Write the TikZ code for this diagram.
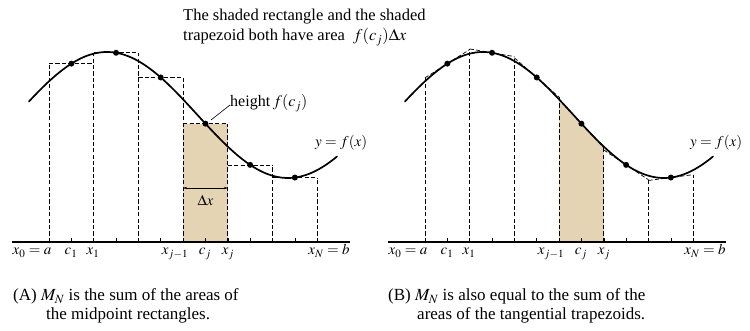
\documentclass[tikz,border=0pt]{standalone}
\usepackage{mathptmx}
\usepackage{fontspec}
\setmainfont{Liberation Serif}
\usetikzlibrary{arrows.meta}
\definecolor{tan}{HTML}{E4D4B4}
\tikzset{
  curve/.style={line width=1.7pt, line cap=round},
  dsh/.style={line width=0.7pt, dash pattern=on 4.2pt off 2.2pt},
  axisline/.style={line width=1.1pt},
  tick/.style={line width=0.6pt},
  dotmark/.style={circle, fill=black, inner sep=0pt, minimum size=6pt},
  lbl/.style={inner sep=0pt, anchor=base, font=\fontsize{15}{17}\selectfont},
  mlbl/.style={inner sep=0pt, anchor=base west, font=\fontsize{15}{17}\selectfont},
  txt/.style={inner sep=0pt, anchor=base west, font=\fontsize{17}{19}\selectfont},
  toptxt/.style={txt, font=\fontsize{16.5}{18}\selectfont, text height=11pt, text depth=2.5pt},
  declare function={fc(\x)=216+63*cos(0.994475*(\x-107));
                    fd(\x)=-1.09349*sin(0.994475*(\x-107));}
}
\begin{document}
\begin{tikzpicture}[x=1pt,y=1pt]
\useasboundingbox (0,0) rectangle (750,331);
\def\xz{49}\def\dx{44.7}
% ===================== Panel A =====================
\begin{scope}
% shaded rectangle
\pgfmathsetmacro{\ca}{\xz+3.5*\dx}
\pgfmathsetmacro{\ha}{fc(\ca)}
\fill[tan] ({\xz+3*\dx},89) rectangle ({\xz+4*\dx},\ha);
% rectangles (tops)
\foreach \j in {1,...,6}{
  \pgfmathsetmacro{\c}{\xz+(\j-0.5)*\dx}
  \pgfmathsetmacro{\h}{fc(\c)}
  \draw[dsh] ({\xz+(\j-1)*\dx},\h) -- ({\xz+\j*\dx},\h);
}
% verticals
\foreach \j in {0,...,6}{
  \pgfmathsetmacro{\xx}{\xz+\j*\dx}
  \pgfmathsetmacro{\hl}{\j>0 ? fc(\xz+(\j-0.5)*\dx) : 0}
  \pgfmathsetmacro{\hr}{\j<6 ? fc(\xz+(\j+0.5)*\dx) : 0}
  \pgfmathsetmacro{\hm}{max(\hl,\hr)}
  \draw[dsh] (\xx,89) -- (\xx,\hm);
}
% axis
\coordinate (axA1) at (12,89);
\coordinate (axA2) at (350,89);
\draw[axisline] (axA1) -- (axA2);
\foreach \k in {0,...,12}{
  \draw[tick] ({\xz+\k*\dx/2},89) -- ({\xz+\k*\dx/2},93);
}
% curve
\draw[curve] plot[domain=29:337, samples=120] (\x,{fc(\x)});
% dots
\foreach \j in {1,...,6}{
  \pgfmathsetmacro{\c}{\xz+(\j-0.5)*\dx}
  \node[dotmark] (dA\j) at (\c,{fc(\c)}) {};
}
% delta x arrow
\coordinate (dxl) at ({\xz+3*\dx},143);
\coordinate (dxr) at ({\xz+4*\dx},143);
\draw[line width=0.5pt, {Stealth[length=4pt,width=2.5pt]}-{Stealth[length=4pt,width=2.5pt]}] (dxl) -- (dxr);
\node[lbl] (dxA) at ({\xz+3.5*\dx},125) {$\Delta x$};
% height label
\node[txt, font=\fontsize{16}{18}\selectfont] (hgt) at (230,224) {height\,$f(c_j)$};
\coordinate (hgtend) at (230,226);
\draw[line width=0.6pt] (211,211) -- (hgtend);
\node[mlbl] (yfA) at (315,184) {$y=f(x)$};
% axis labels
\node[lbl] (lx0) at (32,76) {$x_0=a$};
\node[lbl] (lc1) at (71,76) {$c_1$};
\node[lbl] (lx1) at (93,76) {$x_1$};
\node[lbl] (lxj1) at (175,76) {$x_{j-1}$};
\node[lbl] (lcj) at (205,76) {$c_j$};
\node[lbl] (lxj) at (228,76) {$x_j$};
\node[lbl] (lxN) at (329,76) {$x_N=b$};
% caption
\node[txt] (capA1) at (13,30) {(A) $M_N$ is the sum of the areas of};
\node[txt] (capA2) at (46,11) {the midpoint rectangles.};
\end{scope}
% ===================== Panel B =====================
\begin{scope}[xshift=376pt]
% shaded trapezoid
\pgfmathsetmacro{\c}{\xz+3.5*\dx}
\pgfmathsetmacro{\hl}{fc(\c)-fd(\c)*\dx/2}
\pgfmathsetmacro{\hr}{fc(\c)+fd(\c)*\dx/2}
\fill[tan] ({\xz+3*\dx},89) -- ({\xz+3*\dx},\hl) -- ({\xz+4*\dx},\hr) -- ({\xz+4*\dx},89) -- cycle;
% tangent tops
\foreach \j in {1,...,6}{
  \pgfmathsetmacro{\c}{\xz+(\j-0.5)*\dx}
  \pgfmathsetmacro{\hl}{fc(\c)-fd(\c)*\dx/2}
  \pgfmathsetmacro{\hr}{fc(\c)+fd(\c)*\dx/2}
  \draw[dsh] ({\xz+(\j-1)*\dx},\hl) -- ({\xz+\j*\dx},\hr);
}
% verticals
\foreach \j in {0,...,6}{
  \pgfmathsetmacro{\xx}{\xz+\j*\dx}
  \pgfmathsetmacro{\cl}{\xz+(\j-0.5)*\dx}
  \pgfmathsetmacro{\cr}{\xz+(\j+0.5)*\dx}
  \pgfmathsetmacro{\hl}{\j>0 ? fc(\cl)+fd(\cl)*\dx/2 : 0}
  \pgfmathsetmacro{\hr}{\j<6 ? fc(\cr)-fd(\cr)*\dx/2 : 0}
  \pgfmathsetmacro{\hm}{max(\hl,\hr)}
  \draw[dsh] (\xx,89) -- (\xx,\hm);
}
\coordinate (axB1) at (12,89);
\coordinate (axB2) at (350,89);
\draw[axisline] (axB1) -- (axB2);
\foreach \k in {0,...,12}{
  \draw[tick] ({\xz+\k*\dx/2},89) -- ({\xz+\k*\dx/2},93);
}
\draw[curve] plot[domain=29:337, samples=120] (\x,{fc(\x)});
\foreach \j in {1,...,6}{
  \pgfmathsetmacro{\c}{\xz+(\j-0.5)*\dx}
  \node[dotmark] (dB\j) at (\c,{fc(\c)}) {};
}
\node[mlbl] (yfB) at (314,184) {$y=f(x)$};
\node[lbl] (mx0) at (32,76) {$x_0=a$};
\node[lbl] (mc1) at (71,76) {$c_1$};
\node[lbl] (mx1) at (93,76) {$x_1$};
\node[lbl] (mxj1) at (175,76) {$x_{j-1}$};
\node[lbl] (mcj) at (205,76) {$c_j$};
\node[lbl] (mxj) at (228,76) {$x_j$};
\node[lbl] (mxN) at (329,76) {$x_N=b$};
\node[txt] (capB1) at (12,30) {(B) $M_N$ is also equal to the sum of the};
\node[txt] (capB2) at (41,11) {areas of the tangential trapezoids.};
\end{scope}
% ===================== top text =====================
\node[toptxt] (top1) at (183,310) {The shaded rectangle and the shaded};
\node[toptxt] (top2) at (183,290) {trapezoid both have area \ $f(c_j)\Delta x$};
\end{tikzpicture}
\end{document}
